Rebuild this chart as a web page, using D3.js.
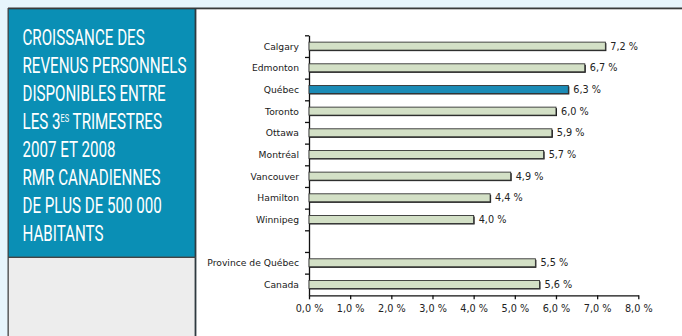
<!DOCTYPE html>
<html>
<head>
<meta charset="utf-8">
<script src="https://cdn.jsdelivr.net/npm/d3@7"></script>
<style>
  html, body { margin: 0; padding: 0; background: #e7f5fc; }
  svg { display: block; }
</style>
</head>
<body>
<svg id="chart" width="682" height="336"></svg>
<script>
// Growth in personal disposable income, Q3 2007 to Q3 2008 (%)
const categories = ["Calgary", "Edmonton", "Québec", "Toronto", "Ottawa", "Montréal",
                    "Vancouver", "Hamilton", "Winnipeg", "", "Province de Québec", "Canada"];
const values = [7.2, 6.7, 6.3, 6.0, 5.9, 5.7, 4.9, 4.4, 4.0, null, 5.5, 5.6];
const highlighted = ["Québec"];
const xTicks = [0, 1, 2, 3, 4, 5, 6, 7, 8];
const titleLines = ["CROISSANCE DES", "REVENUS PERSONNELS", "DISPONIBLES ENTRE",
                    "LES 3|ES| TRIMESTRES", "2007 ET 2008", "RMR CANADIENNES",
                    "DE PLUS DE 500 000", "HABITANTS"];

const rows = categories.map((c, i) => ({ key: c || "__gap" + i, label: c, value: values[i] }));
const fmt = v => v.toFixed(1).replace(".", ",") + " %";

const svg = d3.select("#chart");

// ---- frame: side panel and chart panel
svg.append("rect").attr("x", 196).attr("y", 9).attr("width", 486).attr("height", 327).attr("fill", "#ffffff");
svg.append("rect").attr("x", 8).attr("y", 9).attr("width", 188).attr("height", 248).attr("fill", "#0a8fb5");
svg.append("rect").attr("x", 8).attr("y", 257).attr("width", 188).attr("height", 79).attr("fill", "#ededed");
svg.append("rect").attr("x", 8).attr("y", 7.5).attr("width", 674).attr("height", 1.8).attr("fill", "#3a3a3a");
svg.append("rect").attr("x", 7.5).attr("y", 8).attr("width", 1.3).attr("height", 328).attr("fill", "#444");
svg.append("rect").attr("x", 194.6).attr("y", 8).attr("width", 1.8).attr("height", 328).attr("fill", "#2f3a40");
svg.append("rect").attr("x", 8).attr("y", 256.6).attr("width", 188).attr("height", 1.4).attr("fill", "#444");

// ---- title block
const title = svg.append("g").attr("transform", "translate(22.5,0)");
const titleText = title.append("g");
titleLines.forEach((line, i) => {
  const t = titleText.append("text")
    .attr("x", 0).attr("y", 45 + i * 28)
    .attr("fill", "#ffffff")
    .attr("font-family", "Roboto, 'Liberation Sans', sans-serif")
    .attr("font-weight", 400)
    .attr("font-size", 22.5);
  line.split("|").forEach((part, j) => {
    const ts = t.append("tspan").text(part);
    if (j === 1) ts.attr("font-size", 11).attr("dy", -7);
    if (j === 2) ts.attr("dy", 7);
  });
});
// condensed lettering: scale so the longest line spans the panel
const longest = titleText.selectAll("text").nodes()
  .reduce((m, n) => Math.max(m, n.getComputedTextLength()), 0);
titleText.attr("transform", `scale(${164 / longest},1)`);

// ---- chart
const margin = { left: 309, top: 35.3, bottom: 295.3 };
const x = d3.scaleLinear().domain([0, 8]).range([margin.left, 638.3]);
const y = d3.scaleBand().domain(rows.map(d => d.key)).range([margin.top, margin.bottom]).padding(0);
const barH = 8;

const font = "'DejaVu Sans', Verdana, sans-serif";

// y axis with ticks on the row boundaries
const yEdges = d3.scaleLinear().domain([0, rows.length]).range([margin.top, margin.bottom]);
svg.append("g")
  .attr("transform", `translate(${margin.left},0)`)
  .call(d3.axisLeft(yEdges).tickValues(d3.range(0, rows.length)).tickSize(4).tickSizeOuter(0).tickFormat(""))
  .call(g => g.selectAll("path, line").attr("stroke", "#111").attr("stroke-width", 1.3));

// bars (shadow + body)
const bars = svg.append("g").selectAll("g").data(rows.filter(d => d.value != null)).join("g");
bars.append("rect")
  .attr("x", x(0) + 1)
  .attr("y", d => y(d.key) + y.bandwidth() / 2 - barH / 2 + 1)
  .attr("width", d => x(d.value) - x(0))
  .attr("height", barH)
  .attr("fill", "#111");
bars.append("rect")
  .attr("x", x(0))
  .attr("y", d => y(d.key) + y.bandwidth() / 2 - barH / 2)
  .attr("width", d => x(d.value) - x(0))
  .attr("height", barH)
  .attr("fill", d => highlighted.includes(d.label) ? "#1b8bb6" : "#d3e0c6")
  .attr("stroke", "#333")
  .attr("stroke-width", 0.9);

// value labels
bars.append("text")
  .attr("x", d => x(d.value) + 5)
  .attr("y", d => y(d.key) + y.bandwidth() / 2 + 3.5)
  .attr("font-family", font).attr("font-size", 9.7).attr("fill", "#222")
  .text(d => fmt(d.value));

// category labels
svg.append("g").selectAll("text").data(rows.filter(d => d.label)).join("text")
  .attr("x", 299)
  .attr("y", d => y(d.key) + y.bandwidth() / 2 + 3.5)
  .attr("text-anchor", "end")
  .attr("font-family", font).attr("font-size", 9.2).attr("fill", "#1a1a1a")
  .text(d => d.label);

// x axis
svg.append("g")
  .attr("transform", `translate(0,${margin.bottom})`)
  .call(d3.axisBottom(x).tickValues(xTicks).tickSize(4).tickSizeOuter(0).tickPadding(6).tickFormat(fmt))
  .call(g => g.selectAll("path, line").attr("stroke", "#111").attr("stroke-width", 1.3))
  .call(g => g.selectAll("text").attr("font-family", font).attr("font-size", 9.7).attr("fill", "#222"));
</script>
</body>
</html>
